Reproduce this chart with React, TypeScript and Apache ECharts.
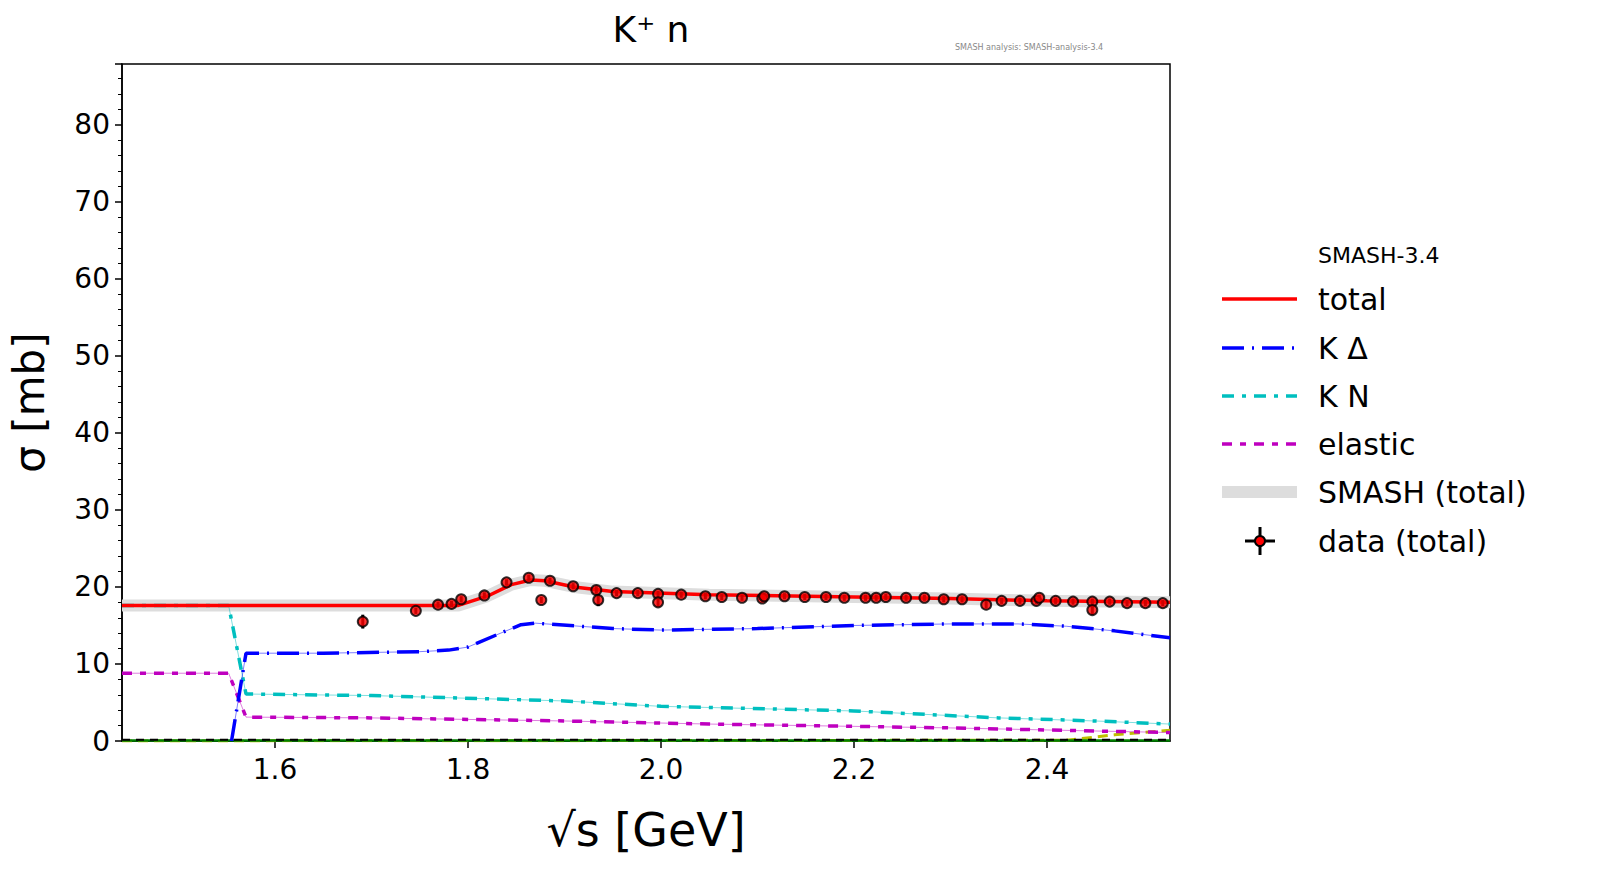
import { useEffect, useRef } from 'react'
import * as echarts from 'echarts'

const totalX = [1.4415, 1.6, 1.7, 1.79, 1.82, 1.845, 1.865, 1.88, 1.91, 1.95, 2.05, 2.2, 2.3, 2.4, 2.5275]
const totalY = [17.6, 17.6, 17.6, 17.6, 18.8, 20.3, 20.9, 20.8, 20.0, 19.4, 19.0, 18.7, 18.5, 18.2, 18.0]

const kdX = [1.555, 1.57, 1.65, 1.75, 1.78, 1.8, 1.83, 1.855, 1.87, 1.95, 2.0, 2.1, 2.2, 2.3, 2.37, 2.42, 2.47, 2.5275]
const kdY = [0, 11.4, 11.4, 11.6, 11.8, 12.2, 13.8, 15.1, 15.3, 14.6, 14.4, 14.6, 15.0, 15.2, 15.2, 14.9, 14.3, 13.4]

const knX = [1.4415, 1.552, 1.57, 1.7, 1.9, 2.0, 2.2, 2.35, 2.45, 2.5275]
const knY = [17.6, 17.6, 6.1, 5.9, 5.2, 4.5, 3.9, 3.0, 2.6, 2.2]

const elX = [1.4415, 1.552, 1.57, 1.7, 1.9, 2.05, 2.3, 2.45, 2.5275]
const elY = [8.8, 8.8, 3.1, 3.0, 2.6, 2.2, 1.7, 1.3, 1.1]

const yelX = [1.4415, 2.42, 2.47, 2.5275]
const yelY = [0, 0.1, 0.8, 1.4]

const dataX = [1.691, 1.746, 1.769, 1.783, 1.793, 1.817, 1.84, 1.863, 1.876, 1.885, 1.909, 1.933, 1.935, 1.954, 1.976, 1.997, 1.997, 2.021, 2.046, 2.063, 2.084, 2.105, 2.107, 2.128, 2.149, 2.171, 2.19, 2.212, 2.223, 2.233, 2.254, 2.273, 2.293, 2.312, 2.337, 2.353, 2.372, 2.389, 2.392, 2.409, 2.427, 2.447, 2.447, 2.465, 2.483, 2.502, 2.52]
const dataY = [15.5, 16.9, 17.7, 17.8, 18.4, 18.9, 20.6, 21.2, 18.3, 20.8, 20.1, 19.6, 18.3, 19.2, 19.2, 19.1, 18.0, 19.0, 18.8, 18.7, 18.6, 18.5, 18.8, 18.8, 18.7, 18.7, 18.6, 18.6, 18.6, 18.7, 18.6, 18.6, 18.4, 18.4, 17.7, 18.2, 18.2, 18.2, 18.6, 18.2, 18.1, 18.1, 17.0, 18.1, 17.9, 17.9, 17.9]
const dataErr = [0.9, 0.4, 0.4, 0.4, 0.4, 0.4, 0.4, 0.4, 0.4, 0.4, 0.4, 0.5, 0.8, 0.4, 0.4, 0.4, 0.6, 0.4, 0.4, 0.4, 0.4, 0.5, 0.4, 0.4, 0.4, 0.4, 0.4, 0.4, 0.4, 0.4, 0.4, 0.4, 0.4, 0.4, 0.5, 0.4, 0.4, 0.4, 0.4, 0.4, 0.4, 0.4, 0.6, 0.4, 0.4, 0.4, 0.4]

const xTicks = [1.6, 1.8, 2.0, 2.2, 2.4]
const legendNames = ['total', 'K Δ', 'K N', 'elastic', 'SMASH (total)', 'data (total)']

const zip = (xs: number[], ys: number[]) => xs.map((x, i) => [x, ys[i]])

export default function App() {
  const ref = useRef<HTMLDivElement>(null)

  useEffect(() => {
    if (!ref.current) return
    document.body.style.margin = '0'
    const chart = echarts.init(ref.current, null, { renderer: 'svg' })
    const font = 'DejaVu Sans'

    const line = (data: number[][], color: string, width: number, type: any, z = 3, opacity = 1) => ({
      type: 'line', data, showSymbol: false, symbol: 'none', z,
      lineStyle: { color, width, type, opacity }, silent: true,
    })

    const ly = [299, 348, 396, 444, 492, 541]
    const legendStyles: any[] = [
      { color: '#ff0000', width: 3.5, dash: null },
      { color: '#0000ff', width: 3.5, dash: [22, 8, 2, 8] },
      { color: '#00bfbf', width: 3.5, dash: [12, 8, 4, 8] },
      { color: '#bf00bf', width: 3.5, dash: [10, 8, 6, 8] },
      { color: '#dddddd', width: 12, dash: null },
    ]
    const graphic: any[] = [
      { type: 'text', style: { text: 'SMASH-3.4', x: 1318, y: 255, fill: '#000', font: `22px ${font}`, verticalAlign: 'middle' } },
      { type: 'text', style: { text: 'SMASH analysis: SMASH-analysis-3.4', x: 955, y: 47, fill: '#888', font: `8px ${font}`, verticalAlign: 'middle' } },
    ]
    legendNames.forEach((n, i) => {
      graphic.push({ type: 'text', style: { text: n, x: 1318, y: ly[i], fill: '#000', font: `30px ${font}`, verticalAlign: 'middle' } })
      if (i < 5) {
        const s = legendStyles[i]
        graphic.push({ type: 'line', shape: { x1: 1222, y1: ly[i], x2: 1297, y2: ly[i] }, style: { stroke: s.color, lineWidth: s.width, lineDash: s.dash } })
      } else {
        graphic.push({ type: 'line', shape: { x1: 1245, y1: ly[i], x2: 1275, y2: ly[i] }, style: { stroke: '#000', lineWidth: 3 } })
        graphic.push({ type: 'line', shape: { x1: 1260, y1: ly[i] - 14, x2: 1260, y2: ly[i] + 14 }, style: { stroke: '#000', lineWidth: 3 } })
        graphic.push({ type: 'circle', shape: { cx: 1260, cy: ly[i], r: 5 }, style: { fill: '#ff0000', stroke: '#000', lineWidth: 2 } })
      }
    })

    chart.setOption({
      animation: false,
      textStyle: { fontFamily: font },
      title: { text: 'K⁺ n', left: 646, top: 6, textAlign: 'center', textStyle: { fontSize: 36, fontWeight: 'normal', color: '#000', fontFamily: font } },
      grid: { left: 122, right: 430, top: 64, bottom: 149, show: true, borderColor: '#000', borderWidth: 1.5, backgroundColor: 'transparent' },
      xAxis: {
        type: 'value', min: 1.4415, max: 2.5275,
        name: '√s [GeV]', nameLocation: 'middle', nameGap: 66,
        nameTextStyle: { fontSize: 46, color: '#000', fontFamily: font },
        axisLine: { lineStyle: { color: '#000', width: 1.5 } },
        axisTick: { customValues: xTicks, length: 7, lineStyle: { color: '#000', width: 1.5 } },
        axisLabel: { customValues: xTicks, fontSize: 28, color: '#000', margin: 14, formatter: (v: number) => v.toFixed(1) },
        splitLine: { show: false },
      },
      yAxis: {
        type: 'value', min: 0, max: 87.9, interval: 10,
        name: 'σ [mb]', nameLocation: 'middle', nameGap: 72,
        nameTextStyle: { fontSize: 42, color: '#000', fontFamily: font },
        axisLine: { show: true, lineStyle: { color: '#000', width: 1.5 } },
        axisTick: { length: 7, lineStyle: { color: '#000', width: 1.5 } },
        minorTick: { show: true, splitNumber: 5, length: 4, lineStyle: { color: '#000' } },
        axisLabel: { fontSize: 28, color: '#000', margin: 12, showMaxLabel: false },
        splitLine: { show: false },
      },
      graphic,
      series: [
        line(zip(totalX, totalY), '#dddddd', 12, 'solid', 1),
        line(zip(yelX, yelY), '#bfbf00', 3, [10, 6], 2),
        line([[1.4415, 0.05], [2.5275, 0.05]], '#007f00', 2.5, 'solid', 2),
        line([[1.4415, 0.15], [2.5275, 0.15]], '#000000', 2, [8, 6], 2),
        line(zip(elX, elY), '#bf00bf', 1, 'solid', 3, 0.5),
        line(zip(elX, elY), '#bf00bf', 3.5, [10, 8, 6, 8], 3),
        line(zip(knX, knY), '#00bfbf', 1, 'solid', 3, 0.5),
        line(zip(knX, knY), '#00bfbf', 3.5, [12, 8, 4, 8], 3),
        line(zip(kdX, kdY), '#0000ff', 1, 'solid', 3, 0.5),
        line(zip(kdX, kdY), '#0000ff', 3.5, [22, 8, 2, 8], 3),
        line(zip(totalX, totalY), '#ff0000', 3.5, 'solid', 4),
        {
          type: 'custom', z: 5, silent: true,
          data: dataX.map((x, i) => [x, dataY[i], dataErr[i]]),
          renderItem: (_p: any, api: any) => {
            const top = api.coord([api.value(0), api.value(1) + api.value(2)])
            const bot = api.coord([api.value(0), api.value(1) - api.value(2)])
            return { type: 'line', shape: { x1: top[0], y1: top[1], x2: bot[0], y2: bot[1] }, style: { stroke: '#000', lineWidth: 3 } }
          },
        },
        {
          type: 'scatter', z: 6, data: zip(dataX, dataY), symbol: 'circle', symbolSize: 10,
          itemStyle: { color: '#ff0000', borderColor: '#000', borderWidth: 2 },
        },
      ],
    })
    return () => chart.dispose()
  }, [])

  return <div ref={ref} style={{ width: 1600, height: 890 }} />
}
